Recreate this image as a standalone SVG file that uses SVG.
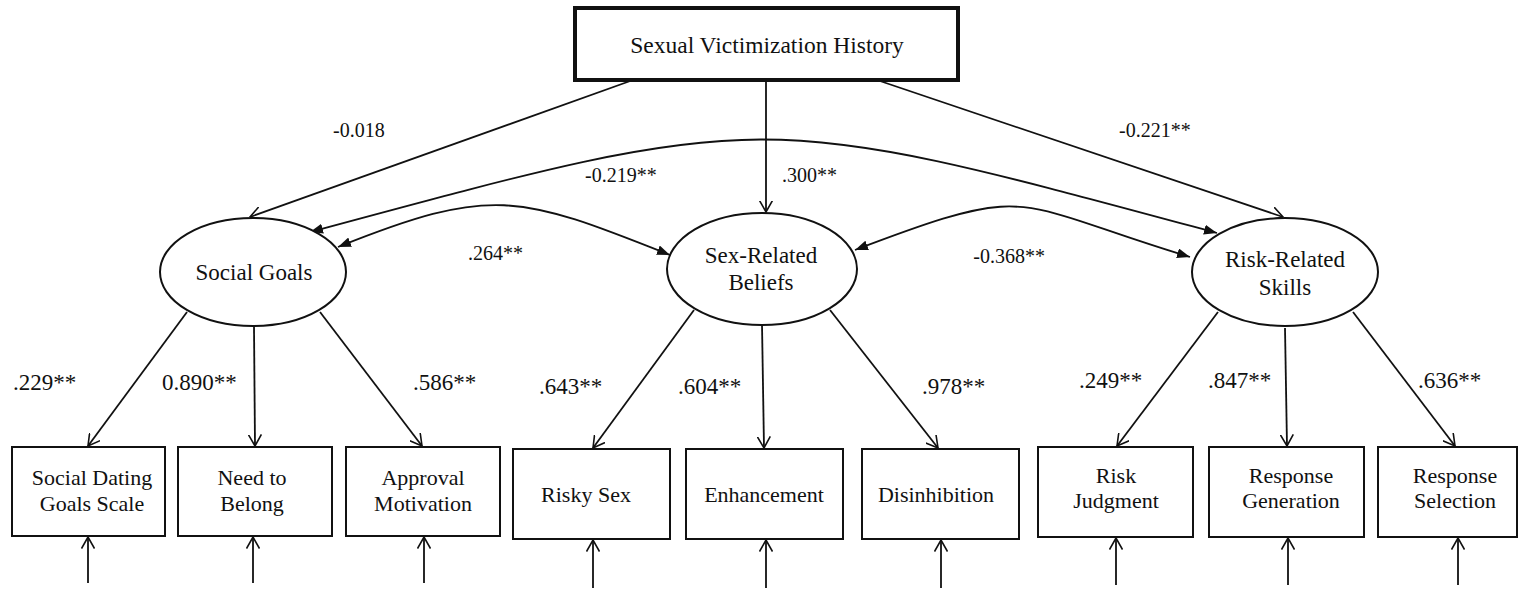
<svg xmlns="http://www.w3.org/2000/svg" width="1519" height="592" viewBox="0 0 1519 592">
<style>
text{font-family:'Liberation Serif','Times New Roman',serif;fill:#111}
.t{font-size:23.5px;text-anchor:middle}
.n{font-size:23px;text-anchor:middle}
.b{font-size:22px;text-anchor:middle}
.e{font-size:20px}
.l{font-size:23px}
.box{fill:#fff;stroke:#111;stroke-width:2}
.ell{fill:#fff;stroke:#111;stroke-width:2}
.c{fill:none;stroke:#111;stroke-width:1.8}
.o{marker-end:url(#open)}
.d{marker-start:url(#fill);marker-end:url(#fill)}
</style>
<defs>
<marker id="open" viewBox="0 0 12 14" refX="11.5" refY="7" markerWidth="12" markerHeight="14" markerUnits="userSpaceOnUse" orient="auto">
<path d="M0,0.5 L11.5,7 L0,13.5" fill="none" stroke="#111" stroke-width="1.6"/>
</marker>
<marker id="fill" viewBox="0 0 13 10" refX="13" refY="5" markerWidth="13" markerHeight="10" markerUnits="userSpaceOnUse" orient="auto-start-reverse">
<path d="M0,0 L13,5 L0,10 z" fill="#111"/>
</marker>
</defs>
<rect width="1519" height="592" fill="#fff"/>

<g id="connectors">
<line class="c o" x1="633" y1="80" x2="250" y2="217"/>
<line class="c o" x1="766" y1="80" x2="766" y2="212"/>
<line class="c o" x1="877" y1="80" x2="1283" y2="217"/>
<path class="c d" d="M310,232 C770,108 757,109 1217,233"/>
<path class="c d" d="M338,247 C491,186 517,194 670,255"/>
<path class="c d" d="M855,250 C1037,181 1008,202 1190,257"/>
<line class="c o" x1="187" y1="312" x2="88" y2="446"/>
<line class="c o" x1="254" y1="327" x2="255" y2="446"/>
<line class="c o" x1="320" y1="312" x2="422" y2="446"/>
<line class="c o" x1="694" y1="310" x2="593" y2="448"/>
<line class="c o" x1="762" y1="324" x2="764" y2="448"/>
<line class="c o" x1="830" y1="310" x2="938" y2="448"/>
<line class="c o" x1="1218" y1="312" x2="1117" y2="446"/>
<line class="c o" x1="1285" y1="328" x2="1287" y2="446"/>
<line class="c o" x1="1353" y1="312" x2="1455" y2="446"/>
<line class="c o" x1="88" y1="583" x2="88" y2="537"/>
<line class="c o" x1="253" y1="583" x2="253" y2="537"/>
<line class="c o" x1="424" y1="583" x2="424" y2="537"/>
<line class="c o" x1="593" y1="588" x2="593" y2="540"/>
<line class="c o" x1="766" y1="588" x2="766" y2="540"/>
<line class="c o" x1="941" y1="588" x2="941" y2="540"/>
<line class="c o" x1="1116" y1="585" x2="1116" y2="538"/>
<line class="c o" x1="1288" y1="585" x2="1288" y2="538"/>
<line class="c o" x1="1458" y1="585" x2="1458" y2="538"/>
</g>

<g id="labels">
<text class="e" x="333" y="137">-0.018</text>
<text class="e" x="585" y="182">-0.219**</text>
<text class="e" x="782" y="182">.300**</text>
<text class="e" x="1119" y="137">-0.221**</text>
<text class="e" x="468" y="260">.264**</text>
<text class="e" x="1045" y="263" text-anchor="end">-0.368**</text>
<text class="l" x="13" y="390">.229**</text>
<text class="l" x="162" y="390">0.890**</text>
<text class="l" x="413" y="390">.586**</text>
<text class="l" x="539" y="394">.643**</text>
<text class="l" x="678" y="394">.604**</text>
<text class="l" x="922" y="394">.978**</text>
<text class="l" x="1079" y="388">.249**</text>
<text class="l" x="1208" y="388">.847**</text>
<text class="l" x="1418" y="388">.636**</text>
</g>

<g id="svh">
<rect x="575" y="8" width="383" height="72" fill="#fff" stroke="#111" stroke-width="4"/>
<text class="t" x="767" y="53">Sexual Victimization History</text>
</g>

<g id="social-goals">
<ellipse class="ell" cx="253" cy="272" rx="93" ry="54"/>
<text class="n" x="254" y="280">Social Goals</text>
</g>
<g id="sex-related-beliefs">
<ellipse class="ell" cx="762" cy="269" rx="95" ry="56"/>
<text class="n" x="761" y="263">Sex-Related</text>
<text class="n" x="761" y="290">Beliefs</text>
</g>
<g id="risk-related-skills">
<ellipse class="ell" cx="1285" cy="272" rx="93" ry="54"/>
<text class="n" x="1285" y="267">Risk-Related</text>
<text class="n" x="1285" y="295">Skills</text>
</g>

<g id="social-dating">
<rect class="box" x="12" y="447" width="153" height="89"/>
<text class="b" x="92" y="485">Social Dating</text>
<text class="b" x="92" y="511">Goals Scale</text>
</g>
<g id="need-to-belong">
<rect class="box" x="178" y="447" width="154" height="89"/>
<text class="b" x="252" y="485">Need to</text>
<text class="b" x="252" y="511">Belong</text>
</g>
<g id="approval">
<rect class="box" x="346" y="447" width="154" height="89"/>
<text class="b" x="423" y="485">Approval</text>
<text class="b" x="423" y="511">Motivation</text>
</g>
<g id="risky-sex">
<rect class="box" x="513" y="449" width="157" height="90"/>
<text class="b" x="586" y="502">Risky Sex</text>
</g>
<g id="enhancement">
<rect class="box" x="686" y="449" width="157" height="90"/>
<text class="b" x="764" y="502">Enhancement</text>
</g>
<g id="disinhibition">
<rect class="box" x="862" y="449" width="157" height="90"/>
<text class="b" x="936" y="502">Disinhibition</text>
</g>
<g id="risk-judgment">
<rect class="box" x="1038" y="447" width="155" height="90"/>
<text class="b" x="1116" y="483">Risk</text>
<text class="b" x="1116" y="508">Judgment</text>
</g>
<g id="response-generation">
<rect class="box" x="1209" y="447" width="155" height="90"/>
<text class="b" x="1291" y="483">Response</text>
<text class="b" x="1291" y="508">Generation</text>
</g>
<g id="response-selection">
<rect class="box" x="1378" y="447" width="139" height="90"/>
<text class="b" x="1455" y="483">Response</text>
<text class="b" x="1455" y="508">Selection</text>
</g>
</svg>
